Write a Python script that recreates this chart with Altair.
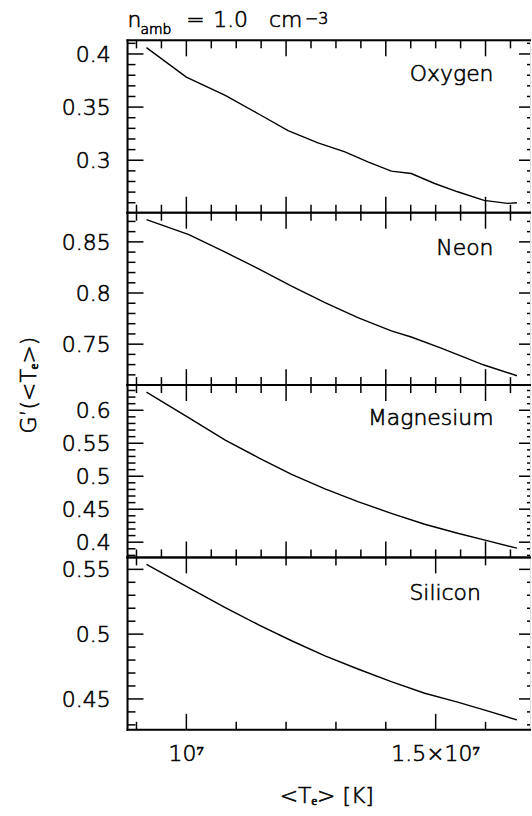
import altair as alt
import pandas as pd

# ---------------- data ----------------
elements = ["Oxygen", "Neon", "Magnesium", "Silicon"]

T_O = [9.20e6, 1.00e7, 1.078e7, 1.145e7, 1.204e7, 1.264e7, 1.318e7, 1.364e7,
       1.411e7, 1.451e7, 1.498e7, 1.544e7, 1.597e7, 1.644e7, 1.663e7]
G_O = [0.4060, 0.3782, 0.3610, 0.3435, 0.3278, 0.3163, 0.3078, 0.2985,
       0.2897, 0.2875, 0.2781, 0.2703, 0.2622, 0.2594, 0.2600]

T_Ne = [9.20e6, 1.005e7, 1.078e7, 1.145e7, 1.211e7, 1.278e7, 1.344e7, 1.411e7,
        1.451e7, 1.511e7, 1.597e7, 1.663e7]
G_Ne = [0.8717, 0.8571, 0.8399, 0.8237, 0.8068, 0.7906, 0.7760, 0.7630,
        0.7570, 0.7462, 0.7296, 0.7191]

T_Mg = [9.20e6, 1.011e7, 1.078e7, 1.145e7, 1.211e7, 1.278e7, 1.344e7, 1.411e7,
        1.478e7, 1.544e7, 1.597e7, 1.663e7]
G_Mg = [0.6276, 0.5858, 0.5547, 0.5280, 0.5027, 0.4807, 0.4615, 0.4438,
        0.4272, 0.4136, 0.4036, 0.3909]

T_Si = [9.20e6, 1.011e7, 1.078e7, 1.145e7, 1.211e7, 1.278e7, 1.344e7, 1.411e7,
        1.478e7, 1.544e7, 1.597e7, 1.663e7]
G_Si = [0.5538, 0.5346, 0.5205, 0.5072, 0.4949, 0.4833, 0.4731, 0.4633,
        0.4544, 0.4475, 0.4415, 0.4338]

# tick values / labels
x_label_values = [1.0e7, 1.5e7]
x_label_texts = ["10\u2077", "1.5\u00d710\u2077"]

x_major_std = [1.0e7, 1.2e7, 1.4e7, 1.6e7]
x_minor_std = [9.0e6, 9.5e6, 1.05e7, 1.1e7, 1.15e7, 1.25e7, 1.3e7, 1.35e7,
               1.45e7, 1.5e7, 1.55e7, 1.65e7]
x_major_si = [1.0e7, 1.5e7]
x_minor_si = [9.0e6, 1.1e7, 1.2e7, 1.3e7, 1.4e7, 1.6e7]

y_major_O = [0.30, 0.35, 0.40]
y_major_Ne = [0.75, 0.80, 0.85]
y_major_Mg = [0.40, 0.45, 0.50, 0.55, 0.60]
y_major_Si = [0.45, 0.50, 0.55]

title_main = "n"
title_sub = "amb"
title_eq = "="
title_val = "1.0"
title_unit = "cm"
title_sup = "\u22123"
x_title = "<T\u2091> [K]"
y_title = "G\u2019(<T\u2091>)"

# ---------------- layout / style ----------------
FONT = "DejaVu Sans"
FW = 200
TEXT_STROKE = 0.6
FS = 22
W, H = 404, 173
X_DOMAIN = [8.82e6, 1.6892e7]
Y_DOMAINS = {
    "Oxygen": [0.2506, 0.4128],
    "Neon": [0.7100, 0.8785],
    "Magnesium": [0.3769, 0.6382],
    "Silicon": [0.4262, 0.5592],
}
LABEL_POS = {  # (T, G) of the right end / baseline of the element name
    "Oxygen": (1.616e7, 0.3741),
    "Neon": (1.616e7, 0.8376),
    "Magnesium": (1.616e7, 0.5773),
    "Silicon": (1.5907e7, 0.5264),
}
MAJ, MIN = 16, 8
RIGHT_HIDDEN = 5  # true right axis lies just outside the picture

TXT = dict(font=FONT, fontWeight=FW, color="black", stroke="black",
           strokeWidth=TEXT_STROKE)


def minor_ticks(lo, hi, majors):
    out = []
    k = int(round(lo * 100))
    while k <= int(round(hi * 100)):
        v = round(k / 100, 2)
        if all(abs(v - m) > 1e-9 for m in majors):
            out.append(v)
        k += 1
    return out


y_minor = {
    "Oxygen": minor_ticks(0.26, 0.41, y_major_O),
    "Neon": minor_ticks(0.72, 0.87, y_major_Ne),
    "Magnesium": minor_ticks(0.38, 0.63, y_major_Mg),
    "Silicon": minor_ticks(0.43, 0.55, y_major_Si),
}
y_major = {"Oxygen": y_major_O, "Neon": y_major_Ne,
           "Magnesium": y_major_Mg, "Silicon": y_major_Si}
series = {"Oxygen": (T_O, G_O), "Neon": (T_Ne, G_Ne),
          "Magnesium": (T_Mg, G_Mg), "Silicon": (T_Si, G_Si)}

one = pd.DataFrame({"a": [0]})


def text_at(txt, x, y, size=FS, align="left", baseline="alphabetic", angle=0):
    kw = dict(text=txt, fontSize=size, align=align, baseline=baseline, **TXT)
    if angle:
        kw["angle"] = angle
    return alt.Chart(one).mark_text(**kw).encode(x=alt.value(x), y=alt.value(y))


def panel(name, bottom=False):
    T, G = series[name]
    x_enc = alt.X("T:Q", scale=alt.Scale(domain=X_DOMAIN, nice=False, zero=False), axis=None)
    y_enc = alt.Y("G:Q", scale=alt.Scale(domain=Y_DOMAINS[name], nice=False, zero=False),
                  axis=None)
    xmaj, xmin = (x_major_si, x_minor_si) if bottom else (x_major_std, x_minor_std)

    layers = []
    layers.append(alt.Chart(pd.DataFrame({"T": T, "G": G})).mark_line(
        color="black", strokeWidth=1.4).encode(x=x_enc, y=y_enc))

    def xr(vals, y0, y1):
        return alt.Chart(pd.DataFrame({"T": vals})).mark_rule(
            color="black", strokeWidth=1.5).encode(x=x_enc, y=alt.value(y0), y2=alt.value(y1))

    def yr(vals, x0, x1):
        return alt.Chart(pd.DataFrame({"G": vals})).mark_rule(
            color="black", strokeWidth=1.5).encode(y=y_enc, x=alt.value(x0), x2=alt.value(x1))

    layers += [xr(xmaj, 0, MAJ), xr(xmin, 0, MIN), xr(xmaj, H - MAJ, H), xr(xmin, H - MIN, H)]
    ym, yn = y_major[name], y_minor[name]
    layers += [yr(ym, 0, MAJ), yr(yn, 0, MIN),
               yr(ym, W + RIGHT_HIDDEN - MAJ, W), yr(yn, W + RIGHT_HIDDEN - MIN, W)]

    border = dict(color="black", strokeWidth=2, strokeCap="square")
    layers.append(alt.Chart(one).mark_rule(**border).encode(
        x=alt.value(0), y=alt.value(0), y2=alt.value(H)))
    layers.append(alt.Chart(one).mark_rule(**border).encode(
        x=alt.value(0), x2=alt.value(W), y=alt.value(0)))
    layers.append(alt.Chart(one).mark_rule(**border).encode(
        x=alt.value(0), x2=alt.value(W), y=alt.value(H)))

    # y tick labels, placed through the y scale
    ylab = pd.DataFrame({"G": ym, "lab": [format(v, "g") for v in ym]})
    layers.append(alt.Chart(ylab).mark_text(
        fontSize=FS, align="right", baseline="middle", dy=1, **TXT
    ).encode(y=y_enc, x=alt.value(-17), text="lab:N"))

    if bottom:
        xlab = pd.DataFrame({"T": x_label_values, "lab": x_label_texts})
        layers.append(alt.Chart(xlab).mark_text(
            fontSize=FS, align="center", baseline="alphabetic", **TXT
        ).encode(x=x_enc, y=alt.value(H + 31), text="lab:N"))

    lx, ly = LABEL_POS[name]
    layers.append(alt.Chart(pd.DataFrame({"T": [lx], "G": [ly], "lab": [name]})).mark_text(
        fontSize=FS, align="right", baseline="alphabetic", **TXT
    ).encode(x=x_enc, y=y_enc, text="lab:N"))
    return layers


p1 = panel("Oxygen")
# anchor for the canvas origin (white, invisible) + top title
p1.append(alt.Chart(one).mark_rule(color="white", strokeWidth=0.5).encode(
    x=alt.value(-127), x2=alt.value(-126.5), y=alt.value(-38)))
p1 += [
    text_at(title_main, 0, -13),
    text_at(title_sub, 13, -6, size=14),
    text_at(title_eq, 59, -13),
    text_at(title_val, 86, -13),
    text_at(title_unit, 142, -13),
    text_at(title_sup, 178, -16.5, size=16),
]
p2 = panel("Neon")
p2.append(text_at(y_title, -99, H, align="center", baseline="middle", angle=270))
p3 = panel("Magnesium")
p4 = panel("Silicon", bottom=True)
p4.append(text_at(x_title, 200, H + 73, align="center"))

charts = [alt.layer(*p).properties(width=W, height=H) for p in (p1, p2, p3, p4)]

chart = alt.vconcat(*charts, spacing=0, bounds="flush", padding=0).configure_view(
    stroke="transparent", strokeWidth=0
).configure(background="white")

chart.save("out.html", embed_options={"renderer": "svg", "actions": False})
